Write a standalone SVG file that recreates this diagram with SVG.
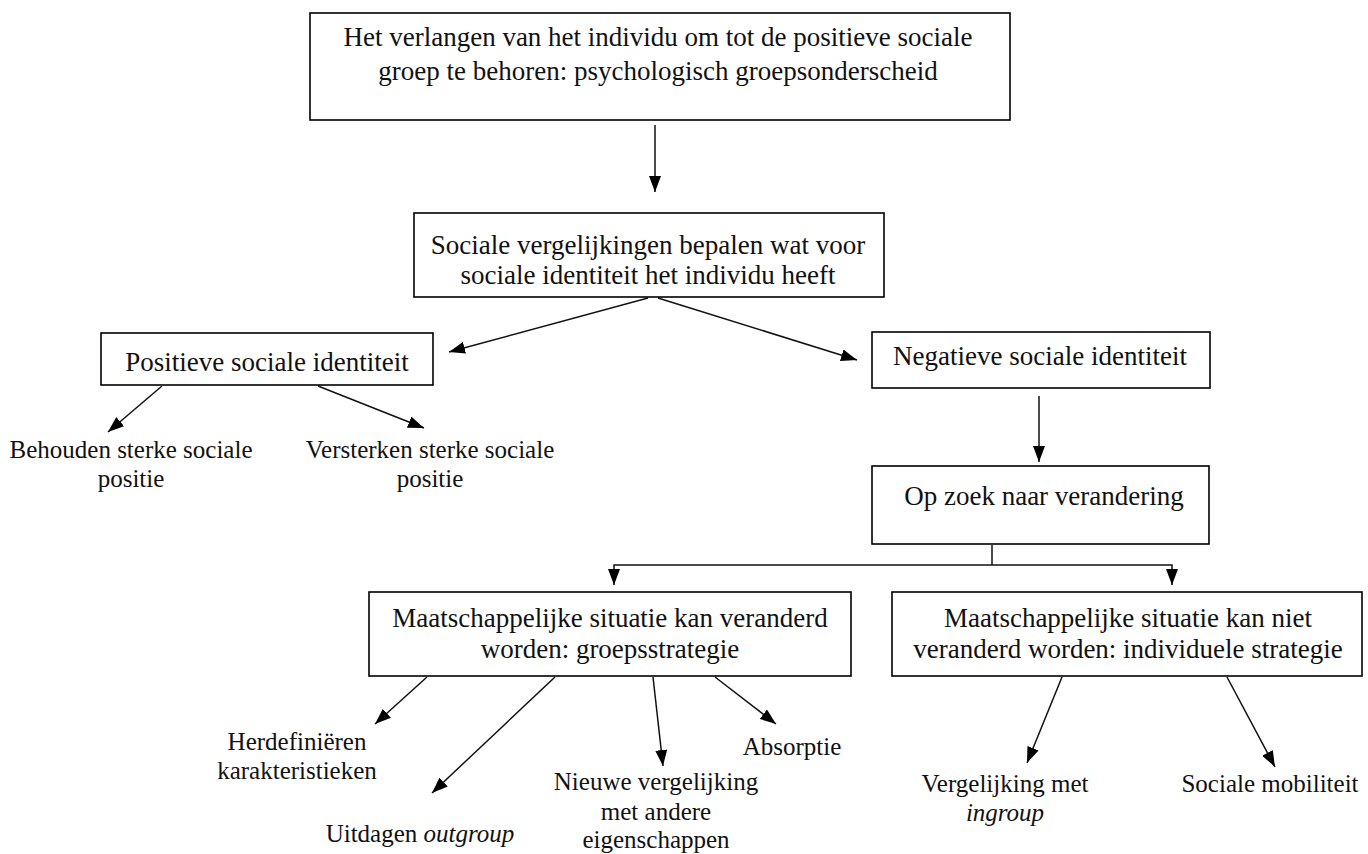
<svg xmlns="http://www.w3.org/2000/svg" width="1368" height="854" viewBox="0 0 1368 854">
<style>
.box{fill:#fff;stroke:#000;stroke-width:1.6}
.bt{font-family:"Liberation Serif","Times New Roman",serif;font-size:27px;fill:#111;text-anchor:middle}
.lt{font-family:"Liberation Serif","Times New Roman",serif;font-size:25px;fill:#111;text-anchor:middle}
.c{fill:none;stroke:#111;stroke-width:1.5}
</style>
<defs>
<marker id="ah" viewBox="0 0 16 12" refX="16" refY="6" markerWidth="16" markerHeight="12" markerUnits="userSpaceOnUse" orient="auto">
<path d="M0,0 L16,6 L0,12 z" fill="#000"/>
</marker>
</defs>
<rect width="1368" height="854" fill="#fff"/>
<g id="connectors">
<line class="c" x1="655" y1="125" x2="655" y2="192" marker-end="url(#ah)"/>
<line class="c" x1="648" y1="298" x2="449" y2="352" marker-end="url(#ah)"/>
<line class="c" x1="658" y1="298" x2="857" y2="360" marker-end="url(#ah)"/>
<line class="c" x1="162" y1="386" x2="108" y2="432" marker-end="url(#ah)"/>
<line class="c" x1="318" y1="386" x2="424" y2="428" marker-end="url(#ah)"/>
<line class="c" x1="1039" y1="396" x2="1039" y2="462" marker-end="url(#ah)"/>
<polyline class="c" points="992,545 992,565"/>
<polyline class="c" points="614,572 614,565 1172,565 1172,572"/>
<line class="c" x1="614" y1="570" x2="614" y2="585" marker-end="url(#ah)"/>
<line class="c" x1="1172" y1="570" x2="1172" y2="585" marker-end="url(#ah)"/>
<line class="c" x1="427" y1="677" x2="375" y2="724" marker-end="url(#ah)"/>
<line class="c" x1="555" y1="677" x2="432" y2="793" marker-end="url(#ah)"/>
<line class="c" x1="653" y1="677" x2="663" y2="766" marker-end="url(#ah)"/>
<line class="c" x1="715" y1="677" x2="776" y2="724" marker-end="url(#ah)"/>
<line class="c" x1="1062" y1="677" x2="1027" y2="763" marker-end="url(#ah)"/>
<line class="c" x1="1227" y1="677" x2="1275" y2="767" marker-end="url(#ah)"/>
</g>
<g id="n1">
<rect class="box" x="310" y="13" width="700" height="107"/>
<text class="bt" x="658" y="46">Het verlangen van het individu om tot de positieve sociale</text>
<text class="bt" x="658" y="80">groep te behoren: psychologisch groepsonderscheid</text>
</g>
<g id="n2">
<rect class="box" x="414" y="213" width="470" height="84"/>
<text class="bt" x="648" y="254">Sociale vergelijkingen bepalen wat voor</text>
<text class="bt" x="648" y="284">sociale identiteit het individu heeft</text>
</g>
<g id="n3">
<rect class="box" x="101" y="333" width="332" height="52"/>
<text class="bt" x="267" y="371">Positieve sociale identiteit</text>
</g>
<g id="n4">
<rect class="box" x="872" y="332" width="338" height="56"/>
<text class="bt" x="1040" y="365">Negatieve sociale identiteit</text>
</g>
<g id="n5">
<text class="lt" x="131" y="458">Behouden sterke sociale</text>
<text class="lt" x="131" y="487">positie</text>
</g>
<g id="n6">
<text class="lt" x="430" y="458">Versterken sterke sociale</text>
<text class="lt" x="430" y="487">positie</text>
</g>
<g id="n7">
<rect class="box" x="872" y="466" width="337" height="78"/>
<text class="bt" x="1044" y="505">Op zoek naar verandering</text>
</g>
<g id="n8">
<rect class="box" x="369" y="592" width="482" height="84"/>
<text class="bt" x="610" y="627">Maatschappelijke situatie kan veranderd</text>
<text class="bt" x="610" y="658">worden: groepsstrategie</text>
</g>
<g id="n9">
<rect class="box" x="892" y="592" width="470" height="84"/>
<text class="bt" x="1128" y="627">Maatschappelijke situatie kan niet</text>
<text class="bt" x="1128" y="658">veranderd worden: individuele strategie</text>
</g>
<g id="n10">
<text class="lt" x="297" y="750">Herdefiniëren</text>
<text class="lt" x="297" y="779">karakteristieken</text>
</g>
<g id="n11">
<text class="lt" x="420" y="842">Uitdagen <tspan font-style="italic">outgroup</tspan></text>
</g>
<g id="n12">
<text class="lt" x="656" y="790">Nieuwe vergelijking</text>
<text class="lt" x="656" y="820">met andere</text>
<text class="lt" x="656" y="848">eigenschappen</text>
</g>
<g id="n13">
<text class="lt" x="792" y="755">Absorptie</text>
</g>
<g id="n14">
<text class="lt" x="1005" y="792">Vergelijking met</text>
<text class="lt" x="1005" y="821" font-style="italic">ingroup</text>
</g>
<g id="n15">
<text class="lt" x="1270" y="792">Sociale mobiliteit</text>
</g>
</svg>
